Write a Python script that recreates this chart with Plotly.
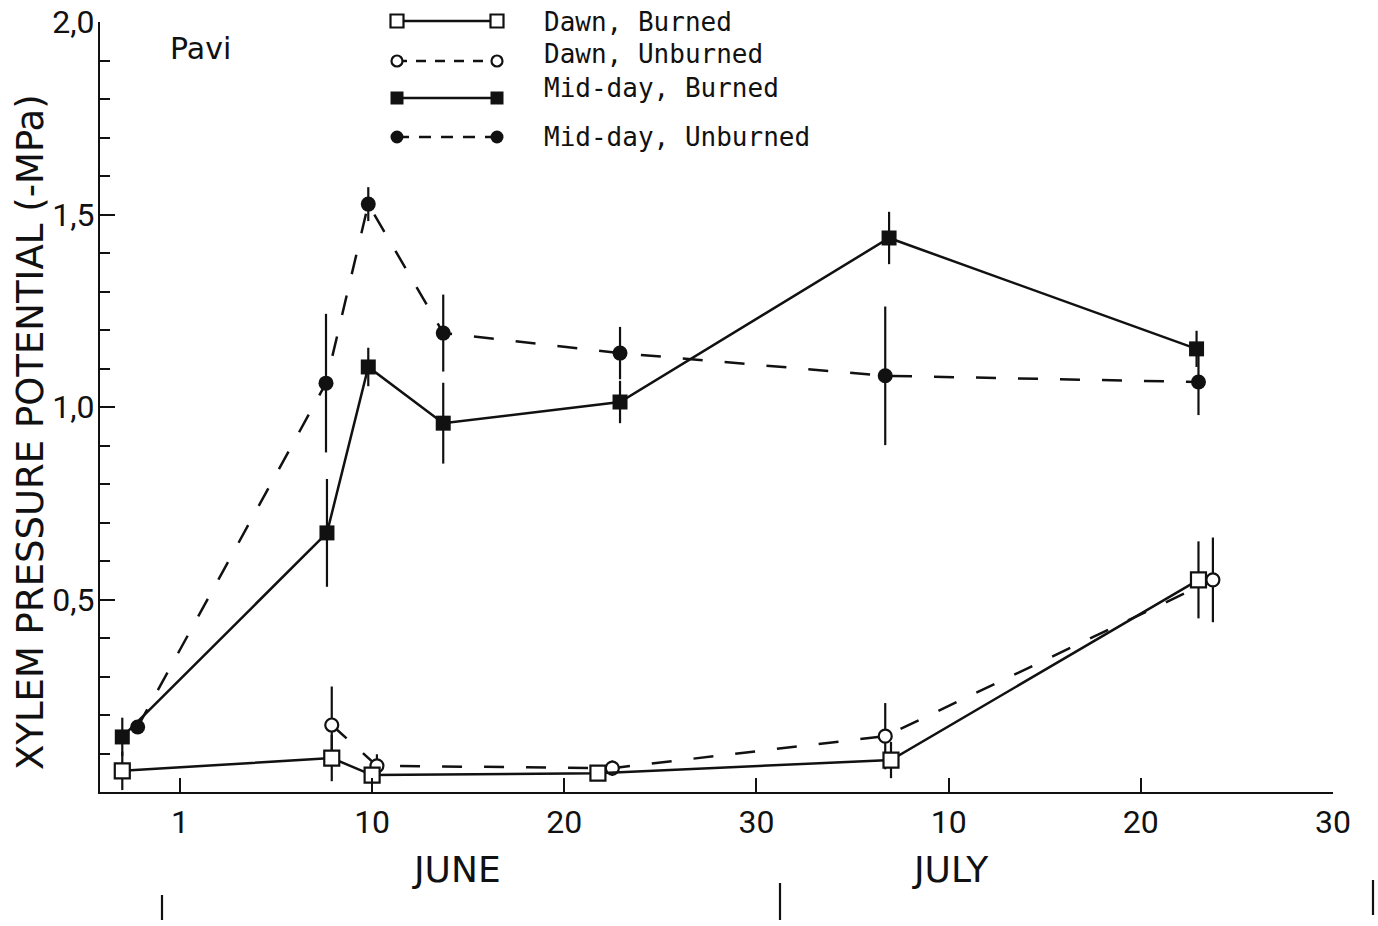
import plotly.graph_objects as go

# ---------------- data (days counted from the "1" June tick = 0) ----------------
midday_burned_x = [-3.0, 7.65, 9.8, 13.7, 22.9, 36.9, 52.9]
midday_burned_y = [0.143, 0.673, 1.104, 0.958, 1.013, 1.439, 1.151]
midday_burned_err = [0.05, 0.14, 0.05, 0.105, 0.055, 0.068, 0.047]

midday_unburned_x = [-2.2, 7.6, 9.8, 13.7, 22.9, 36.7, 53.0]
midday_unburned_y = [0.169, 1.062, 1.527, 1.192, 1.140, 1.081, 1.065]
midday_unburned_err = [0.0, 0.18, 0.044, 0.10, 0.068, 0.18, 0.086]

dawn_burned_x = [-3.0, 7.9, 10.0, 21.75, 37.0, 53.0]
dawn_burned_y = [0.055, 0.088, 0.044, 0.049, 0.083, 0.551]
dawn_burned_err = [0.05, 0.06, 0.02, 0.02, 0.047, 0.10]

dawn_unburned_x = [7.9, 10.25, 22.5, 36.7, 53.75]
dawn_unburned_y = [0.174, 0.068, 0.062, 0.145, 0.551]
dawn_unburned_err = [0.10, 0.03, 0.02, 0.086, 0.11]

x_tick_vals = [0, 10, 20, 30, 40, 50, 60]
x_tick_text = ["1", "10", "20", "30", "10", "20", "30"]
y_tick_vals = [0.5, 1.0, 1.5, 2.0]
y_tick_text = ["0,5", "1,0", "1,5", "2,0"]
y_minor_vals = [0.1, 0.2, 0.3, 0.4, 0.6, 0.7, 0.8, 0.9, 1.1, 1.2, 1.3, 1.4,
                1.6, 1.7, 1.8, 1.9]
months = ["JUNE", "JULY"]
month_centers = [14.4, 40.1]

legend_names = ["Dawn, Burned", "Dawn, Unburned", "Mid-day, Burned", "Mid-day, Unburned"]

# ---------------- styling ----------------
BLACK = "#111111"
LW = 2.5
DASH = "20px,22px"
W, H = 1378, 926
ML, MR, MT, MB = 100, 45, 22, 134
PW, PH = W - ML - MR, H - MT - MB


def px_x(px):
    return (px - ML) / PW


def px_y(py):
    return (MT + PH - py) / PH


series = [
    dict(name=legend_names[3], x=midday_unburned_x, y=midday_unburned_y, e=midday_unburned_err,
         symbol="circle", size=15, fill=BLACK, dash=DASH, ldash="12px,10px"),
    dict(name=legend_names[1], x=dawn_unburned_x, y=dawn_unburned_y, e=dawn_unburned_err,
         symbol="circle", size=13, fill="white", dash=DASH, ldash="10px,9px"),
    dict(name=legend_names[2], x=midday_burned_x, y=midday_burned_y, e=midday_burned_err,
         symbol="square", size=15, fill=BLACK, dash="solid", ldash="solid"),
    dict(name=legend_names[0], x=dawn_burned_x, y=dawn_burned_y, e=dawn_burned_err,
         symbol="square", size=15, fill="white", dash="solid", ldash="solid"),
]

fig = go.Figure()
for s in series:
    filled = s["fill"] == BLACK
    fig.add_trace(go.Scatter(
        x=s["x"], y=s["y"], mode="lines+markers", name=s["name"], showlegend=False,
        line=dict(color=BLACK, width=LW, dash=s["dash"]),
        marker=dict(symbol=s["symbol"], size=s["size"], color=s["fill"],
                    line=dict(color=BLACK, width=0 if filled else 2.2)),
        error_y=dict(type="data", array=s["e"], visible=True, width=0,
                     thickness=2.2, color=BLACK),
        cliponaxis=False,
    ))

# ---------------- hand-drawn legend (shapes in paper space) ----------------
legend_row_y = [21, 61, 98, 137]
legend_text_y = [22, 54, 88, 137]
legend_x0, legend_x1 = 397, 497
by_name = {s["name"]: s for s in series}
for name, ly, ty in zip(legend_names, legend_row_y, legend_text_y):
    s = by_name[name]
    filled = s["fill"] == BLACK
    fig.add_shape(type="line", xref="paper", yref="paper",
                  x0=px_x(legend_x0), x1=px_x(legend_x1), y0=px_y(ly), y1=px_y(ly),
                  line=dict(color=BLACK, width=LW, dash=s["ldash"]))
    half = (s["size"] - 2) / 2
    for lx in (legend_x0, legend_x1):
        fig.add_shape(type="rect" if s["symbol"] == "square" else "circle",
                      xref="paper", yref="paper", xsizemode="pixel", ysizemode="pixel",
                      xanchor=px_x(lx), yanchor=px_y(ly),
                      x0=-half, x1=half, y0=-half, y1=half,
                      fillcolor=s["fill"],
                      line=dict(color=BLACK, width=0 if filled else 2.2))
    fig.add_annotation(x=px_x(542), y=px_y(ty), xref="paper", yref="paper", text=name,
                       showarrow=False, xanchor="left", yanchor="middle",
                       font=dict(family="DejaVu Sans Mono", size=26, color=BLACK))

# ---------------- text ----------------
fig.add_annotation(x=px_x(200), y=px_y(48), xref="paper", yref="paper",
                   text="Pavi", showarrow=False, xanchor="center", yanchor="middle",
                   font=dict(family="DejaVu Sans", size=30, color=BLACK))
fig.add_annotation(x=px_x(30), y=px_y(432), xref="paper", yref="paper",
                   text="XYLEM PRESSURE POTENTIAL (-MPa)", showarrow=False, textangle=-90,
                   xanchor="center", yanchor="middle",
                   font=dict(family="DejaVu Sans", size=37, color=BLACK))
for m, cx in zip(months, month_centers):
    fig.add_annotation(x=cx, y=px_y(870), xref="x", yref="paper", text=m,
                       showarrow=False, xanchor="center", yanchor="middle",
                       font=dict(family="DejaVu Sans", size=36, color=BLACK))

# month separator marks below the axis
separator_px = [(162, 895, 920), (780, 883, 920), (1373, 880, 915)]
for px, y0, y1 in separator_px:
    fig.add_shape(type="line", xref="paper", yref="paper",
                  x0=px_x(px), x1=px_x(px), y0=px_y(y0), y1=px_y(y1),
                  line=dict(color=BLACK, width=2.2))

tickfont = dict(family="Roboto", size=32, color=BLACK)
fig.update_layout(
    width=W, height=H, margin=dict(l=ML, r=MR, t=MT, b=MB, autoexpand=False),
    paper_bgcolor="white", plot_bgcolor="white", showlegend=False,
    xaxis=dict(range=[-4.16, 60], showgrid=False, zeroline=False, showline=True,
               automargin=False,
               linecolor=BLACK, linewidth=2.2, ticks="inside", ticklen=14, tickwidth=2.2,
               tickcolor=BLACK, tickmode="array", tickvals=x_tick_vals, ticktext=x_tick_text,
               tickfont=tickfont, ticklabelstandoff=0),
    yaxis=dict(range=[0, 2.0], showgrid=False, zeroline=False, showline=True,
               automargin=False,
               linecolor=BLACK, linewidth=2.2, ticks="inside", ticklen=15, tickwidth=2.2,
               tickcolor=BLACK, tickmode="array", tickvals=y_tick_vals, ticktext=y_tick_text,
               tickfont=tickfont, ticklabelstandoff=-3,
               minor=dict(tickmode="array", tickvals=y_minor_vals, ticks="inside",
                          ticklen=10, tickwidth=2.2, tickcolor=BLACK, showgrid=False)),
)

fig.write_html(
    "out.html",
    config={"displayModeBar": False},
    post_script="document.body.style.margin='0';document.body.style.padding='0';"
                "document.body.style.overflow='hidden';",
)
